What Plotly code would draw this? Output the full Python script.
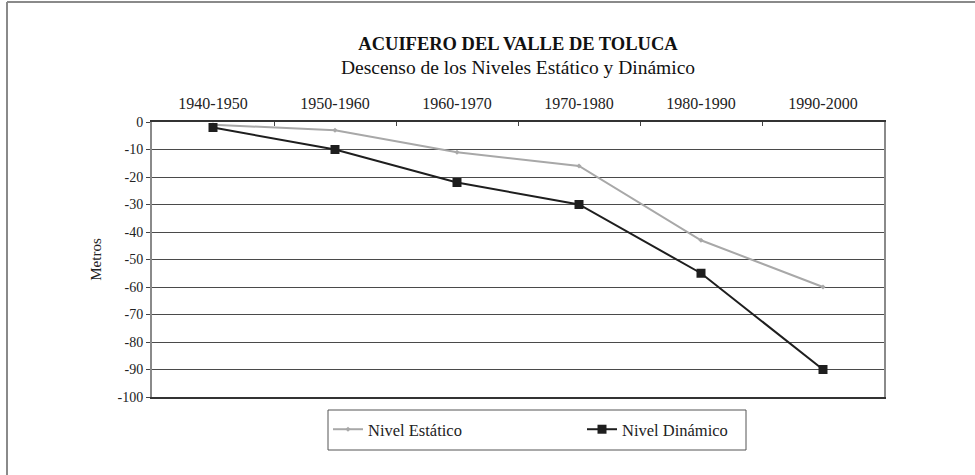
import plotly.graph_objects as go

categories = ["1940-1950", "1950-1960", "1960-1970", "1970-1980", "1980-1990", "1990-2000"]
nivel_estatico = [-1, -3, -11, -16, -43, -60]
nivel_dinamico = [-2, -10, -22, -30, -55, -90]
y_ticks = [0, -10, -20, -30, -40, -50, -60, -70, -80, -90, -100]
y_tick_labels = ["0", "-10", "-20", "-30", "-40", "-50", "-60", "-70", "-80", "-90", "-100"]

W, H = 975, 475
L, R, T, B = 152, 884, 122, 397

font_fam = "Liberation Serif, Times New Roman, serif"

fig = go.Figure()
fig.add_trace(go.Scatter(
    x=categories, y=nivel_estatico, mode="lines+markers", name="Nivel Estático",
    line=dict(color="#a8a8a8", width=2),
    marker=dict(symbol="diamond", size=4, color="#a8a8a8"),
))
fig.add_trace(go.Scatter(
    x=categories, y=nivel_dinamico, mode="lines+markers", name="Nivel Dinámico",
    line=dict(color="#1e1e1e", width=2),
    marker=dict(symbol="square", size=9, color="#1e1e1e"),
))

def px_x(p):
    return (p - L) / (R - L)

def px_y(p):
    return (B - p) / (B - T)

fig.update_layout(
    width=W, height=H,
    margin=dict(l=L, r=W - R, t=T, b=H - B, autoexpand=False),
    paper_bgcolor="white", plot_bgcolor="white",
    font=dict(family=font_fam, color="#222222", size=14),
    title=dict(
        text="<b>ACUIFERO DEL VALLE DE TOLUCA</b><br><span style='font-size:19.5px'>Descenso de los Niveles Estático y Dinámico</span>",
        x=px_x(518), xref="paper", xanchor="center",
        y=1 - 50 / H, yanchor="top", yref="container",
        font=dict(size=18.5, family=font_fam, color="#111111"),
    ),
    xaxis=dict(
        type="category", side="top", showgrid=False,
        tickson="boundaries", ticks="inside", ticklen=4, tickcolor="#444",
        ticklabelstandoff=5,
        showline=True, linecolor="#333333", linewidth=1.5, mirror=True,
        tickfont=dict(size=16, family=font_fam, color="#222"),
        range=[-0.5, 5.5],
    ),
    yaxis=dict(
        range=[-100, 0], tickvals=y_ticks, ticktext=y_tick_labels,
        ticks="outside", ticklen=4, tickcolor="#444",
        showgrid=True, gridcolor="#4a4a4a", gridwidth=1,
        showline=True, linecolor="#8a8a8a", linewidth=2, mirror=True,
        zeroline=False,
        tickfont=dict(size=14, family=font_fam, color="#222"),
        title=dict(text="Metros", font=dict(size=15, family=font_fam, color="#222"), standoff=12),
    ),
    legend=dict(
        orientation="h", x=px_x(328), xanchor="left", y=px_y(412), yanchor="top",
        borderwidth=0, bgcolor="rgba(0,0,0,0)",
        font=dict(size=16.5, family=font_fam, color="#222"),
        entrywidth=209, entrywidthmode="pixels", itemwidth=30,
    ),
    showlegend=True,
    shapes=[
        dict(type="rect", xref="paper", yref="paper",
             x0=px_x(328), x1=px_x(746), y0=px_y(410), y1=px_y(450),
             line=dict(color="#555555", width=1), fillcolor="rgba(0,0,0,0)"),
        dict(type="line", xref="paper", yref="paper",
             x0=px_x(7), x1=px_x(7), y0=px_y(2), y1=px_y(480),
             line=dict(color="#8a8a8a", width=2)),
        dict(type="line", xref="paper", yref="paper",
             x0=px_x(7), x1=px_x(980), y0=px_y(2), y1=px_y(2),
             line=dict(color="#8a8a8a", width=2)),
    ],
)

fig.write_html("out.html", config={"displayModeBar": False},
               post_script="document.body.style.margin='0px';")
